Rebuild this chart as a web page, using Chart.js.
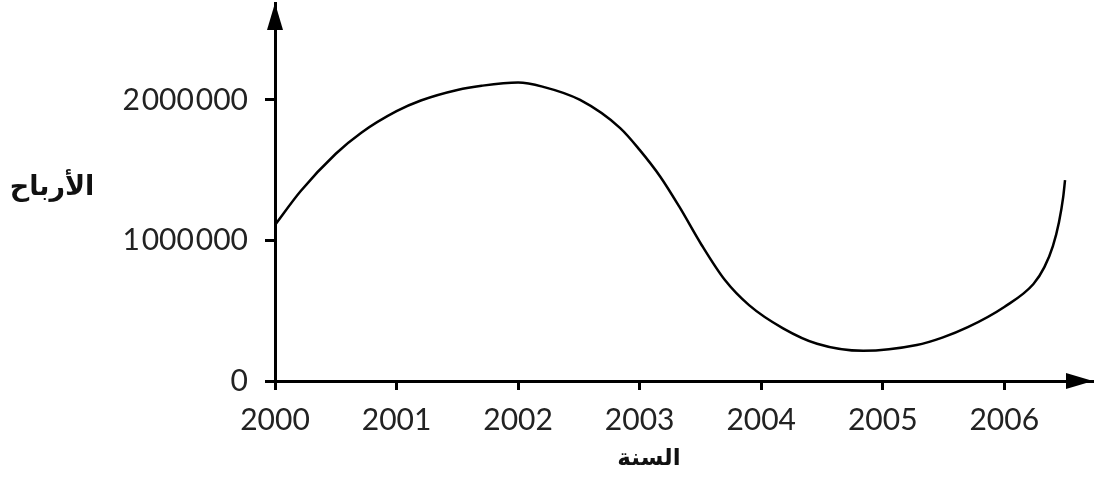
<!DOCTYPE html>
<html>
<head>
<meta charset="utf-8">
<script src="https://cdn.jsdelivr.net/npm/chart.js@4.4.1/dist/chart.umd.min.js"></script>
<style>
html,body{margin:0;padding:0;background:#fff;}
#wrap{width:1094px;height:478px;position:relative;}
</style>
</head>
<body>
<div id="wrap"><canvas id="c"></canvas></div>
<script>
// Data
const years = [2000.0, 2000.21, 2000.5, 2000.71, 2001.0, 2001.2, 2001.5, 2001.7, 2002.0, 2002.2, 2002.51, 2002.84, 2003.0, 2003.17, 2003.33, 2003.51, 2003.7, 2003.9, 2004.18, 2004.46, 2004.84, 2005.28, 2005.49, 2005.7, 2006.0, 2006.24, 2006.33, 2006.4, 2006.45, 2006.485, 2006.5];
const profits = [1110000, 1350000, 1617000, 1767000, 1920000, 1996000, 2071000, 2101000, 2124000, 2095000, 2000000, 1800000, 1645000, 1454000, 1235000, 968000, 720000, 540000, 375000, 265000, 215000, 256000, 309000, 383000, 527000, 690000, 810000, 960000, 1130000, 1310000, 1430000];
const xTicks = [2000, 2001, 2002, 2003, 2004, 2005, 2006];
const yTicks = [0, 1000000, 2000000];
const yTickLabels = ['0', '1\u200A000\u200A000', '2\u200A000\u200A000'];
const xTitle = 'السنة';
const yTitle = 'الأرباح';

const points = years.map((x, i) => ({x: x, y: profits[i]}));

const axisPlugin = {
  id: 'axisDecor',
  afterDraw(chart) {
    const ctx = chart.ctx;
    const xs = chart.scales.x, ys = chart.scales.y;
    const x0 = xs.getPixelForValue(2000);
    const y0 = ys.getPixelForValue(0);
    const top = chart.chartArea.top;
    const right = chart.chartArea.right;
    ctx.save();
    ctx.fillStyle = '#000';
    // y arrow
    ctx.beginPath();
    ctx.moveTo(x0, top);
    ctx.lineTo(x0 - 8, top + 27);
    ctx.lineTo(x0 + 8, top + 27);
    ctx.closePath();
    ctx.fill();
    // x arrow
    ctx.beginPath();
    ctx.moveTo(right, y0);
    ctx.lineTo(right - 27, y0 - 8);
    ctx.lineTo(right - 27, y0 + 8);
    ctx.closePath();
    ctx.fill();
    // titles
    ctx.fillStyle = '#111';
    ctx.textAlign = 'center';
    ctx.textBaseline = 'middle';
    ctx.direction = 'rtl';
    ctx.font = 'bold 27px "DejaVu Sans"';
    ctx.fillText(yTitle, 52, 188);
    ctx.font = 'bold 23px "DejaVu Sans"';
    ctx.fillText(xTitle, 649, 459);
    ctx.restore();
  }
};

function zeroPad(s) { s.paddingTop = 0; s.paddingBottom = 0; s.paddingLeft = 0; s.paddingRight = 0; }

new Chart(document.getElementById('c'), {
  type: 'line',
  data: {
    datasets: [{
      data: points,
      borderColor: '#000',
      borderWidth: 2.5,
      pointRadius: 0,
      fill: false,
      cubicInterpolationMode: 'monotone'
    }]
  },
  options: {
    responsive: true,
    maintainAspectRatio: false,
    animation: false,
    layout: {padding: {top: 3, right: 1, left: 0, bottom: 0}},
    plugins: {legend: {display: false}, tooltip: {enabled: false}},
    scales: {
      x: {
        type: 'linear',
        min: 2000,
        max: 2006.73,
        afterBuildTicks(s) { s.ticks = xTicks.map(v => ({value: v})); },
        afterFit(s) { s.height = 97; zeroPad(s); },
        grid: {display: true, drawOnChartArea: false, drawTicks: true, tickLength: 9, lineWidth: 3, color: '#000'},
        border: {display: true, width: 3, color: '#000'},
        ticks: {
          color: '#222',
          font: {family: 'Lato', size: 30},
          padding: 12,
          maxRotation: 0,
          callback: v => String(v)
        }
      },
      y: {
        type: 'linear',
        min: 0,
        max: 2690000,
        afterBuildTicks(s) { s.ticks = yTicks.map(v => ({value: v})); },
        afterFit(s) { s.width = 275; zeroPad(s); },
        grid: {display: true, drawOnChartArea: false, drawTicks: true, tickLength: 10, lineWidth: 3, color: '#000'},
        border: {display: true, width: 3, color: '#000'},
        ticks: {
          color: '#222',
          font: {family: 'Lato', size: 30},
          padding: 17,
          callback: (v) => yTickLabels[yTicks.indexOf(v)]
        }
      }
    }
  },
  plugins: [axisPlugin]
});
</script>
</body>
</html>
